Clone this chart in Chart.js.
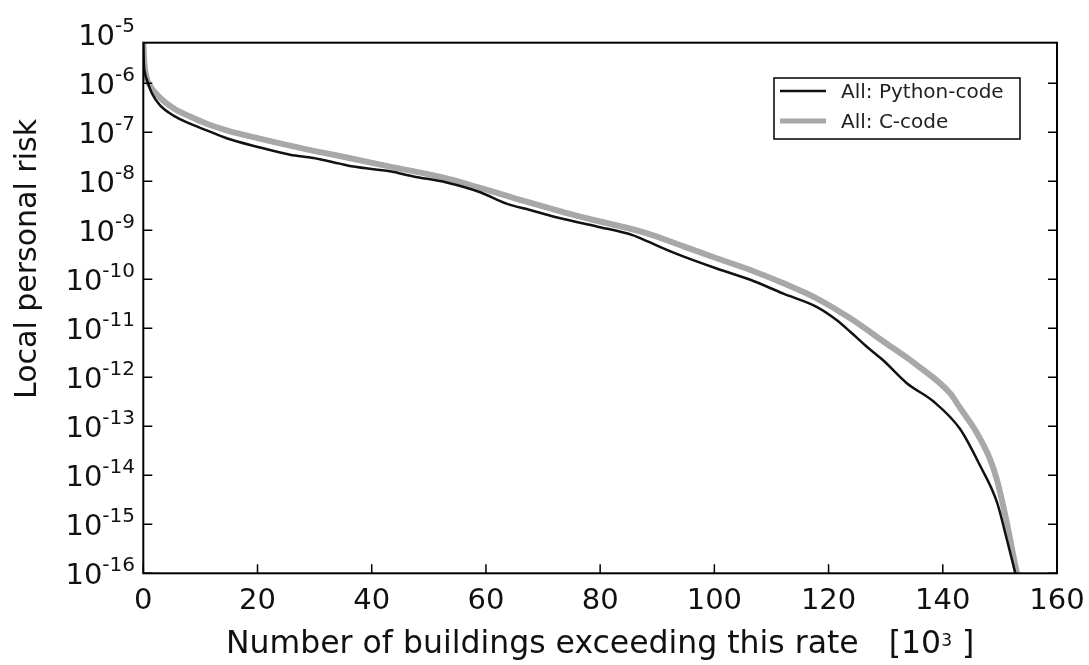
<!DOCTYPE html>
<html>
<head>
<meta charset="utf-8">
<script src="https://cdn.jsdelivr.net/npm/chart.js@4.4.1/dist/chart.umd.min.js"></script>
<style>
  html, body { margin: 0; padding: 0; background: #fff; }
  canvas { display: block; }
</style>
</head>
<body>
<canvas id="riskChart" width="1089" height="665"></canvas>
<script>
const seriesNames = ['All: Python-code', 'All: C-code'];

// Python-code curve (x in 10^3 buildings)
const buildingsPy = [0, 0.1, 0.3, 0.6, 1.5, 2.9, 5.3, 8.2, 11.1, 14.6, 19.9, 25.7, 29.8, 34.4, 36.8, 43.2,
  47.3, 53.1, 59.0, 63.6, 67.7, 73.6, 79.4, 85.8, 88.2, 93.4, 100.4, 106.3, 112.1, 117.9, 121.4, 123.8,
  126.7, 129.6, 133.7, 138.4, 143.0, 146.5, 149.5, 151.2, 152.4, 152.7];
const riskPy = [6.7e-6, 2.5e-6, 1.6e-6, 1.2e-6, 6.3e-7, 3.6e-7, 2.2e-7, 1.5e-7, 1.1e-7, 7.6e-8, 5.1e-8, 3.5e-8,
  3.0e-8, 2.3e-8, 2.0e-8, 1.6e-8, 1.26e-8, 9.5e-9, 6.0e-9, 3.5e-9, 2.6e-9, 1.7e-9, 1.2e-9, 7.9e-10,
  6.0e-10, 3.3e-10, 1.66e-10, 9.8e-11, 5.1e-11, 2.75e-11, 1.48e-11, 8.5e-12, 4.2e-12, 2.2e-12, 7.6e-13,
  3.2e-13, 8.9e-14, 1.6e-14, 2.8e-15, 5.0e-16, 1.4e-16, 1e-16];

// C-code curve
const buildingsC = [0, 0.2, 0.5, 1.2, 3, 5.3, 8.2, 11.1, 14.6, 20, 28.6, 36, 43.2, 53.1, 64.8, 76.5, 88.2,
  94.6, 100.4, 106.3, 112.1, 117.9, 123.8, 129.6, 135.4, 141.3, 143.0, 145.9, 148.3, 149.5, 151.2, 152.2, 153.0];
const riskC = [6.7e-6, 2.5e-6, 1.4e-6, 8.9e-7, 5.0e-7, 3.1e-7, 2.1e-7, 1.5e-7, 1.1e-7, 7.6e-8, 4.5e-8, 3.0e-8,
  2.0e-8, 1.15e-8, 4.6e-9, 1.9e-9, 8.7e-10, 4.7e-10, 2.7e-10, 1.55e-10, 8.3e-11, 4.1e-11, 1.6e-11, 5.4e-12,
  1.8e-12, 4.7e-13, 2.4e-13, 7.6e-14, 2.1e-14, 7.9e-15, 1.1e-15, 2.8e-16, 1e-16];

const xTicks = [0, 20, 40, 60, 80, 100, 120, 140, 160];
const yTicks = [1e-5, 1e-6, 1e-7, 1e-8, 1e-9, 1e-10, 1e-11, 1e-12, 1e-13, 1e-14, 1e-15, 1e-16];
const yTickExponents = ['-5', '-6', '-7', '-8', '-9', '-10', '-11', '-12', '-13', '-14', '-15', '-16'];

const xTitle = 'Number of buildings exceeding this rate   [10';
const xTitleSup = '3';
const xTitleEnd = ' ]';
const yTitle = 'Local personal risk';

const FONT = "'DejaVu Sans', sans-serif";

// frame, inward ticks, labels and the boxed legend, drawn like the matplotlib original
const framePlugin = {
  id: 'frame',
  afterDraw(chart) {
    const ctx = chart.ctx;
    const a = chart.chartArea;
    const xs = chart.scales.x;
    const ys = chart.scales.y;
    ctx.save();

    ctx.strokeStyle = '#000';
    ctx.lineWidth = 1.5;
    ctx.beginPath();
    xTicks.forEach(v => {
      const px = xs.getPixelForValue(v);
      ctx.moveTo(px, a.bottom);
      ctx.lineTo(px, a.bottom - 9);
    });
    yTicks.forEach(v => {
      const py = ys.getPixelForValue(v);
      if (py < a.top + 1) return;
      ctx.moveTo(a.left, py);
      ctx.lineTo(a.left + 9, py);
      ctx.moveTo(a.right, py);
      ctx.lineTo(a.right - 9, py);
    });
    ctx.stroke();

    ctx.lineWidth = 2;
    ctx.strokeRect(a.left, a.top, a.right - a.left, a.bottom - a.top);

    // x tick labels
    ctx.fillStyle = '#111';
    ctx.font = '29px ' + FONT;
    ctx.textAlign = 'center';
    ctx.textBaseline = 'alphabetic';
    xTicks.forEach(v => ctx.fillText(String(v), xs.getPixelForValue(v), a.bottom + 36));

    // y tick labels 10^n
    ctx.textAlign = 'left';
    const right = 135;
    yTicks.forEach((v, i) => {
      const py = ys.getPixelForValue(v);
      ctx.font = '20px ' + FONT;
      const wSup = ctx.measureText(yTickExponents[i]).width;
      ctx.font = '29px ' + FONT;
      const wBase = ctx.measureText('10').width;
      ctx.fillText('10', right - wSup - wBase, py + 10.5);
      ctx.font = '20px ' + FONT;
      ctx.fillText(yTickExponents[i], right - wSup, py - 2.5);
    });

    // x title
    ctx.font = '31.5px ' + FONT;
    const w1 = ctx.measureText(xTitle).width;
    const w3 = ctx.measureText(xTitleEnd).width;
    ctx.font = '17px ' + FONT;
    const w2 = ctx.measureText(xTitleSup).width;
    let tx = (a.left + a.right) / 2 - (w1 + w2 + w3) / 2;
    ctx.font = '31.5px ' + FONT;
    ctx.fillText(xTitle, tx, 653);
    ctx.font = '17px ' + FONT;
    ctx.fillText(xTitleSup, tx + w1, 646);
    ctx.font = '31.5px ' + FONT;
    ctx.fillText(xTitleEnd, tx + w1 + w2, 653);

    // y title
    ctx.save();
    ctx.font = '30px ' + FONT;
    ctx.translate(36, 259);
    ctx.rotate(-Math.PI / 2);
    ctx.textAlign = 'center';
    ctx.fillText(yTitle, 0, 0);
    ctx.restore();

    // legend
    const lx = a.right - 283, ly = 78;
    ctx.lineWidth = 1.5;
    ctx.strokeStyle = '#000';
    ctx.strokeRect(lx, ly, 246, 61);
    const ds = chart.data.datasets;
    [13, 43].forEach((dy, i) => {
      ctx.strokeStyle = ds[i].borderColor;
      ctx.lineWidth = i === 0 ? 2.5 : 5;
      ctx.beginPath();
      ctx.moveTo(lx + 6, ly + dy);
      ctx.lineTo(lx + 52, ly + dy);
      ctx.stroke();
      ctx.fillStyle = '#222';
      ctx.font = '20px ' + FONT;
      ctx.textAlign = 'left';
      ctx.fillText(seriesNames[i], lx + 67, ly + dy + 7);
    });

    ctx.restore();
  }
};

new Chart(document.getElementById('riskChart'), {
  type: 'line',
  data: {
    datasets: [
      {
        label: seriesNames[0],
        data: buildingsPy.map((x, i) => ({ x: x, y: riskPy[i] })),
        borderColor: '#111111',
        borderWidth: 2.5,
        pointRadius: 0,
        cubicInterpolationMode: 'monotone',
        fill: false
      },
      {
        label: seriesNames[1],
        data: buildingsC.map((x, i) => ({ x: x, y: riskC[i] })),
        borderColor: '#a8a8a8',
        borderWidth: 6,
        pointRadius: 0,
        cubicInterpolationMode: 'monotone',
        fill: false
      }
    ]
  },
  options: {
    responsive: false,
    animation: false,
    devicePixelRatio: 1,
    layout: { padding: { top: 42.7, right: 32, left: 0, bottom: 0 } },
    plugins: { legend: { display: false }, tooltip: { enabled: false } },
    scales: {
      x: {
        type: 'linear',
        min: 0,
        max: 160,
        ticks: { display: false },
        grid: { display: false },
        border: { display: false },
        afterFit(s) { s.height = 91.7; }
      },
      y: {
        type: 'logarithmic',
        min: 1e-16,
        max: 6.76e-6,
        ticks: { display: false },
        grid: { display: false },
        border: { display: false },
        afterFit(s) { s.width = 143.3; }
      }
    }
  },
  plugins: [framePlugin]
});
</script>
</body>
</html>
